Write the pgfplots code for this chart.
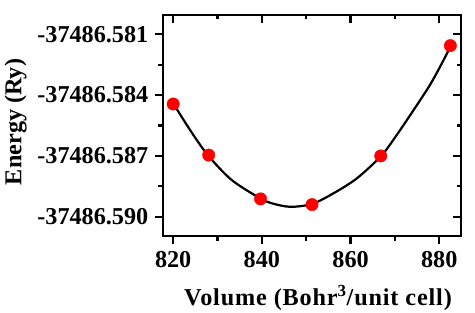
\documentclass[border=0pt]{standalone}
\usepackage{fontspec}
\setmainfont{Liberation Serif}
\usepackage{pgfplots}
\pgfplotsset{compat=1.18}
\usetikzlibrary{calc}
% y values: (E + 37486.58) x 1000, i.e. mRy relative to -37486.580 Ry
\pgfplotstableread{
x y
820.0 -4.44
828.0 -6.96
839.7 -9.12
851.3 -9.40
866.8 -7.00
882.5 -1.56
}\pts
\pgfplotstableread{
x y
820.1 -4.44
823.8 -5.72
827.8 -6.96
833.2 -8.19
839.6 -9.09
842.3 -9.34
846.4 -9.51
851.3 -9.37
856.1 -8.85
861.4 -8.11
866.9 -7.00
870.4 -5.97
874.2 -4.74
877.9 -3.50
880.6 -2.43
882.5 -1.61
}\fit
\begin{document}
\begin{tikzpicture}
\pgfplotsset{
  common/.style={
    scale only axis, width=298bp, height=221bp,
    xmin=817.7, xmax=884.9, ymin=-10.95, ymax=-0.05,
    xtick={820,840,860,880}, minor xtick={830,850,870},
    ytick={-1,-4,-7,-10}, minor ytick={-2.5,-5.5,-8.5},
    axis line style={line width=2.8bp},
    major tick length=8bp, minor tick length=4.5bp,
    every tick/.style={line width=2.2bp, black},
    every minor tick/.style={line width=2.2bp, black},
    tick label style={font=\fontsize{24.3}{28}\selectfont\bfseries},
    label style={font=\fontsize{24.3}{28}\selectfont\bfseries},
  }
}
\begin{axis}[common,
  tick align=outside, xtick pos=bottom, ytick pos=left,
  xticklabels={820,840,860,880},
  yticklabels={-37486.581,-37486.584,-37486.587,-37486.590},
  yticklabel style={inner sep=6.5bp},
  xticklabel style={inner sep=7.5bp},
  xlabel={\addfontfeatures{LetterSpace=3.5}Volume (Bohr\textsuperscript{3}/unit cell)},
  ylabel={Energy (Ry)},
  xlabel style={at={(axis description cs:0.5,0)}, anchor=base, yshift=-69bp, xshift=6bp},
  ylabel style={at={(axis description cs:-0.4564,0.516)}, anchor=south, inner sep=0pt},
]
\addplot[only marks, mark=*, mark size=6.2bp, red, mark options={fill=red, draw=red}] table {\pts};
\addplot[black, line width=2.2bp, smooth] table {\fit};
\end{axis}
\begin{axis}[common,
  tick align=inside, xtick pos=top, ytick pos=right,
  xticklabels={}, yticklabels={},
]
\end{axis}
\pgfresetboundingbox
\path ($(current axis.south west)+(-163bp,-77bp)$) rectangle ($(current axis.north east)+(14bp,15bp)$);
\end{tikzpicture}
\end{document}
